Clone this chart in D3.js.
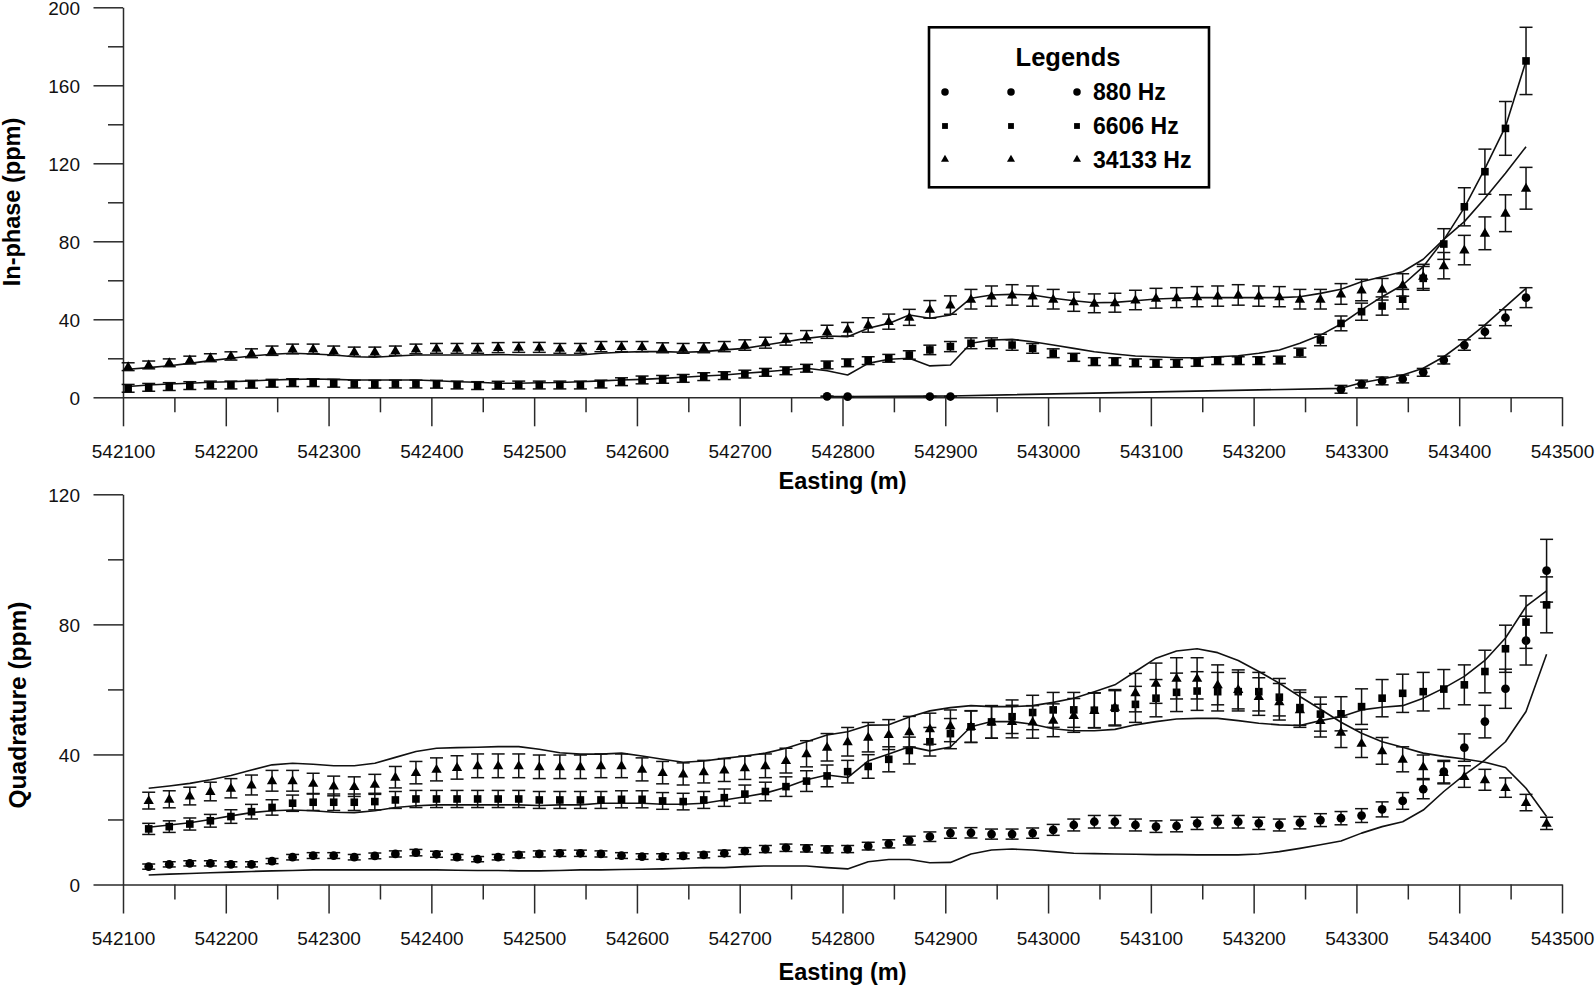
<!DOCTYPE html>
<html><head><meta charset="utf-8">
<script src="https://cdn.jsdelivr.net/npm/d3@7"></script>
<style>
html,body{margin:0;padding:0;background:#fff;}
svg{display:block;}
</style></head><body>
<script>
// ---------------- DATA ----------------
const xMajorTicks = [542100,542200,542300,542400,542500,542600,542700,542800,542900,543000,543100,543200,543300,543400,543500];
const xMinorTicks = [542150,542250,542350,542450,542550,542650,542750,542850,542950,543050,543150,543250,543350,543450];
const topYMajor = [0,40,80,120,160,200];
const topYMinor = [20,60,100,140,180];
const botYMajor = [0,40,80,120];
const botYMinor = [20,60,100];

const frequencies = ["880 Hz","6606 Hz","34133 Hz"];
// error bars: ±10 % of each reading, never smaller than the panel's minimum bar (ppm)
const errorFraction = 0.10;
const inphaseErrorFloor = 2.0;
const quadErrorFloor = 0.8;

// In-phase panel stations
const topEasting = [
542105,542125,542145,542165,542185,542205,542225,542245,542265,542285,
542305,542325,542345,542365,542385,542405,542425,542445,542465,542485,
542505,542525,542545,542565,542585,542605,542625,542645,542665,542685,
542705,542725,542745,542765,542785,542805,542825,542845,542865,542885,
542905,542925,542945,542965,542985,543005,543025,543045,543065,543085,
543105,543125,543145,543165,543185,543205,543225,543245,543265,543285,
543305,543325,543345,543365,543385,543405,543425,543445,543465];

const inphase880 = [
null,null,null,null,null,null,null,null,null,null,
null,null,null,null,null,null,null,null,null,null,
null,null,null,null,null,null,null,null,null,null,
null,null,null,null,0.5,0.3,null,null,null,0.4,
0.4,null,null,null,null,null,null,null,null,null,
null,null,null,null,null,null,null,null,null,4.1,
6.8,8.4,9.4,12.8,19.1,26.8,33.6,40.8,51.1];
const inphase880Model = [
null,null,null,null,null,null,null,null,null,null,
null,null,null,null,null,null,null,null,null,null,
null,null,null,null,null,null,null,null,null,null,
null,null,null,null,0.4,0.4,null,null,null,0.6,
0.7,null,null,null,null,null,null,null,null,null,
null,null,null,null,null,null,null,null,null,4.6,
7.5,9.4,11.4,14.9,20.8,28.5,37.1,46.5,55.9];

const inphase6606 = [
4.6,5.1,5.5,6.0,6.3,6.3,6.7,7.2,7.5,7.5,
7.2,6.8,6.7,6.8,6.8,6.7,6.3,6.0,6.2,6.3,
6.3,6.3,6.3,6.8,8.0,8.9,9.2,9.7,10.6,11.1,
11.9,12.8,13.6,14.9,16.6,17.7,18.8,20.0,21.7,24.3,
26.0,27.7,27.7,26.8,25.1,22.6,20.5,18.3,18.3,17.7,
17.4,17.4,17.9,18.8,18.8,18.8,19.1,22.9,29.4,37.9,
43.9,46.8,50.3,61.0,78.6,97.7,115.7,137.9,172.5];
const inphase6606Model = [
5.5,6.3,6.8,7.2,7.7,8.0,8.4,8.9,9.2,9.4,
9.2,8.9,8.9,8.9,8.9,8.5,8.0,7.7,7.2,7.2,
7.5,7.6,8.0,8.4,8.9,9.2,9.7,10.3,10.9,11.4,
12.3,13.1,14.0,14.9,13.6,11.4,17.4,19.5,20.0,16.1,
16.6,27.7,29.4,29.7,28.5,26.8,25.1,23.4,22.2,21.2,
20.8,20.3,20.3,20.8,21.3,22.6,24.3,27.7,31.9,37.6,
44.8,51.6,57.6,67.0,80.7,97.3,117.3,138.8,172.5];

const inphase34133 = [
15.7,16.6,17.7,19.1,20.3,21.2,22.6,23.9,24.8,24.8,
23.9,23.4,23.4,23.9,24.8,25.1,25.1,25.1,25.5,25.6,
25.6,25.1,25.1,26.0,26.0,26.0,25.4,25.1,25.4,26.0,
26.8,28.0,29.7,31.1,33.6,34.9,37.1,38.8,41.0,45.1,
47.3,50.3,51.9,52.5,51.9,50.3,49.0,48.2,48.5,49.9,
50.8,51.1,51.6,51.9,52.5,51.9,51.6,50.3,50.3,53.0,
55.0,55.4,57.6,62.0,67.5,75.5,84.1,94.4,107.2];
const inphase34133Model = [
14.4,15.2,16.2,17.4,18.8,20.0,21.2,22.1,22.6,22.2,
21.7,20.8,20.5,21.2,21.7,21.7,21.7,21.7,21.9,21.7,
21.7,21.7,21.7,22.6,23.1,23.4,23.4,23.1,23.4,24.3,
25.1,26.8,28.5,30.2,31.4,31.1,35.4,37.9,42.2,40.5,
42.2,50.8,52.5,52.8,52.5,50.8,49.5,48.5,48.7,49.5,
50.4,50.8,51.1,51.1,51.1,51.1,51.1,51.6,53.3,55.4,
59.3,61.8,64.4,70.8,81.0,90.1,102.1,114.9,128.5];

// Quadrature panel stations
const botEasting = [
542125,542145,542165,542185,542205,542225,542245,542265,542285,542305,
542325,542345,542365,542385,542405,542425,542445,542465,542485,542505,
542525,542545,542565,542585,542605,542625,542645,542665,542685,542705,
542725,542745,542765,542785,542805,542825,542845,542865,542885,542905,
542925,542945,542965,542985,543005,543025,543045,543065,543085,543105,
543125,543145,543165,543185,543205,543225,543245,543265,543285,543305,
543325,543345,543365,543385,543405,543425,543445,543465,543485];

const quad880 = [
5.5,6.2,6.5,6.5,6.2,6.2,7.2,8.4,8.9,8.9,
8.4,8.8,9.4,9.8,9.3,8.4,7.8,8.4,9.1,9.4,
9.6,9.6,9.4,8.9,8.6,8.6,8.8,9.1,9.6,10.3,
10.9,11.3,11.1,10.8,10.9,11.8,12.5,13.5,14.7,15.8,
15.9,15.5,15.5,15.8,16.8,18.3,19.3,19.3,18.3,17.8,
18.0,18.8,19.3,19.3,18.8,18.3,19.0,19.8,20.4,21.2,
23.1,25.7,29.3,34.7,42.1,50.1,60.2,75.0,96.5];
const quad880Model = [
2.9,3.2,3.4,3.6,3.8,4.0,4.2,4.3,4.5,4.5,
4.5,4.5,4.5,4.5,4.5,4.4,4.3,4.3,4.2,4.2,
4.3,4.5,4.5,4.6,4.7,4.8,5.0,5.2,5.2,5.5,
5.7,5.7,5.7,5.2,4.8,7.0,7.7,7.7,6.7,6.8,
9.4,10.6,10.9,10.6,10.1,9.6,9.5,9.4,9.3,9.2,
9.2,9.1,9.1,9.1,9.4,10.1,11.1,12.2,13.4,15.8,
17.8,19.3,22.9,28.6,33.7,38.3,43.9,53.2,70.8];

const quad6606 = [
17.1,17.8,18.6,19.6,20.9,22.4,23.7,25.0,25.3,25.3,
25.3,25.5,26.0,26.3,26.3,26.3,26.3,26.3,26.3,26.0,
26.0,26.0,26.0,26.2,26.2,25.7,25.5,26.0,26.7,27.8,
28.6,30.1,31.8,33.4,34.7,36.3,38.5,41.2,43.9,46.4,
48.5,50.0,51.6,52.9,53.7,53.7,53.6,54.2,55.4,57.3,
59.1,59.5,59.3,59.3,59.3,57.6,54.4,52.4,52.5,54.7,
57.3,58.8,59.3,60.1,61.4,65.5,72.5,80.7,86.0];
const quad6606Model = [
17.6,18.3,19.0,20.0,21.1,22.1,22.7,22.9,22.7,22.2,
22.1,22.7,23.7,24.2,24.5,24.5,24.5,24.5,24.5,24.3,
24.5,24.5,25.0,25.0,25.0,24.7,24.7,25.0,26.0,27.0,
28.1,29.9,32.2,33.7,32.9,38.0,40.1,42.4,41.1,42.3,
48.5,50.1,50.1,49.3,47.9,47.3,47.3,47.7,49.1,50.1,
50.9,51.1,51.1,50.4,49.6,49.1,48.9,50.4,51.6,53.7,
54.5,55.0,57.3,60.4,64.0,68.9,75.8,85.5,90.3];

const quad34133 = [
25.8,26.2,27.2,28.6,29.6,30.6,31.9,31.9,31.1,30.3,
30.1,30.8,33.0,34.4,35.4,36.0,36.5,36.5,36.5,36.2,
36.2,36.2,36.5,36.5,35.4,34.4,34.0,34.7,35.2,35.9,
36.5,38.1,40.2,42.2,43.9,45.3,46.1,47.0,47.9,48.8,
48.6,50.0,50.1,50.0,50.5,52.0,53.5,54.5,59.0,61.9,
63.4,63.4,61.4,60.0,57.8,56.2,53.7,50.4,46.8,43.4,
41.1,38.5,36.2,34.4,33.2,32.2,29.8,25.2,18.8];
const quad34133Model = [
29.6,30.3,31.1,32.2,33.5,35.2,36.8,37.3,37.0,36.5,
36.5,37.3,39.1,40.9,41.9,42.1,42.2,42.4,42.4,41.6,
40.5,40.1,40.1,40.4,39.5,38.5,37.6,38.0,38.8,39.5,
40.4,41.9,43.9,46.0,47.0,49.0,49.1,51.5,53.4,54.4,
55.0,54.7,54.7,55.0,56.0,57.3,59.3,61.4,65.5,69.6,
71.8,72.5,71.3,68.9,65.5,61.9,57.8,53.9,49.9,46.5,
43.9,42.2,40.4,39.4,38.6,37.6,36.0,29.6,20.9];

// ---------------- DRAWING ----------------
const W = 1595, H = 985;
const FONT = "'Liberation Sans', Arial, Helvetica, sans-serif";
const INK = "#111";
const svg = d3.select("body").append("svg").attr("width", W).attr("height", H)
  .style("font-family", FONT);

const x = d3.scaleLinear().domain([542100, 543500]).range([123, 1562]);

const symbols = [d3.symbolCircle, d3.symbolSquare, d3.symbolTriangle];
const symSize = [60, 58, 46];

function drawPanel(cfg) {
  const g = svg.append("g");
  const y = d3.scaleLinear().domain([0, cfg.yMax]).range([cfg.y0, cfg.yTop]);

  // x axis (major with labels, minor without)
  g.append("g").attr("transform", `translate(0,${cfg.y0})`)
    .call(d3.axisBottom(x).tickValues(xMajorTicks).tickSize(29).tickSizeOuter(0)
      .tickPadding(18).tickFormat(d3.format("d")));
  const xm = g.append("g").attr("transform", `translate(0,${cfg.y0})`)
    .call(d3.axisBottom(x).tickValues(xMinorTicks).tickSize(15).tickSizeOuter(0).tickFormat(""));
  xm.select(".domain").remove();

  // y axis
  const ya = g.append("g").attr("transform", `translate(${x(542100)},0)`)
    .call(d3.axisLeft(y).tickValues(cfg.yMajor).tickSize(29.5).tickSizeOuter(0).tickPadding(13.5));
  ya.selectAll(".tick text").attr("dy", "0.39em");
  const ym = g.append("g").attr("transform", `translate(${x(542100)},0)`)
    .call(d3.axisLeft(y).tickValues(cfg.yMinor).tickSize(15).tickSizeOuter(0).tickFormat(""));
  ym.select(".domain").remove();

  g.selectAll(".domain, .tick line").attr("stroke", "#2a2a2a").attr("stroke-width", 1.5);
  g.selectAll(".tick text").attr("font-size", 19).attr("fill", "#111").attr("font-family", FONT);

  // axis titles
  g.append("text").attr("x", (x.range()[0] + x.range()[1]) / 2).attr("y", cfg.xTitleY)
    .attr("text-anchor", "middle").attr("font-weight", "bold").attr("font-size", 23.5)
    .attr("fill", "#000").text("Easting (m)");
  g.append("text").attr("transform", `translate(${cfg.yTitleX},${cfg.yTitleC}) rotate(-90)`)
    .attr("text-anchor", "middle").attr("font-weight", "bold").attr("font-size", cfg.yTitleSize)
    .attr("fill", "#000").text(cfg.yTitle);

  const line = d3.line().x(d => x(d[0])).y(d => y(d[1]));

  cfg.series.forEach(s => {
    const modelPts = cfg.easting.map((e, i) => [e, s.model[i]]).filter(d => d[1] != null);
    g.append("path").attr("d", line(modelPts)).attr("fill", "none")
      .attr("stroke", INK).attr("stroke-width", 1.6).attr("stroke-linejoin", "round");
  });

  cfg.series.forEach((s, k) => {
    const pts = cfg.easting.map((e, i) => [e, s.obs[i]]).filter(d => d[1] != null);
    const eb = g.append("g").attr("stroke", INK).attr("stroke-width", 1.5).attr("fill", "none");
    pts.forEach(d => {
      const v = d[1];
      const err = v < 1 ? v * errorFraction : Math.max(v * errorFraction, cfg.errFloor);
      const cx = x(d[0]);
      const yt = y(v + err), yb = y(v - err);
      eb.append("line").attr("x1", cx).attr("x2", cx).attr("y1", yt).attr("y2", yb);
      eb.append("line").attr("x1", cx - 6.5).attr("x2", cx + 6.5).attr("y1", yt).attr("y2", yt);
      eb.append("line").attr("x1", cx - 6.5).attr("x2", cx + 6.5).attr("y1", yb).attr("y2", yb);
    });
    g.append("g").selectAll("path").data(pts).join("path")
      .attr("d", d3.symbol().type(symbols[k]).size(symSize[k]))
      .attr("transform", d => `translate(${x(d[0])},${y(d[1]) + (k === 2 ? 0.5 : 0)})`)
      .attr("fill", "#000");
  });
}

drawPanel({
  y0: 397.3, yTop: 7.3, yMax: 200, yMajor: topYMajor, yMinor: topYMinor,
  errFloor: inphaseErrorFloor,
  xTitleY: 488.5, yTitle: "In-phase (ppm)", yTitleX: 20, yTitleC: 202, yTitleSize: 23.5,
  easting: topEasting,
  series: [
    { obs: inphase880, model: inphase880Model },
    { obs: inphase6606, model: inphase6606Model },
    { obs: inphase34133, model: inphase34133Model }
  ]
});

drawPanel({
  y0: 884.5, yTop: 494.3, yMax: 120, yMajor: botYMajor, yMinor: botYMinor,
  errFloor: quadErrorFloor,
  xTitleY: 980, yTitle: "Quadrature (ppm)", yTitleX: 26, yTitleC: 705, yTitleSize: 24.5,
  easting: botEasting,
  series: [
    { obs: quad880, model: quad880Model },
    { obs: quad6606, model: quad6606Model },
    { obs: quad34133, model: quad34133Model }
  ]
});

// ---------------- LEGEND ----------------
const lg = svg.append("g");
lg.append("rect").attr("x", 929).attr("y", 27.3).attr("width", 280).attr("height", 160)
  .attr("fill", "#fff").attr("stroke", "#000").attr("stroke-width", 2.6);
lg.append("text").attr("x", 1068).attr("y", 66.3).attr("text-anchor", "middle")
  .attr("font-weight", "bold").attr("font-size", 25.5).attr("fill", "#000").text("Legends");
const legRowY = [92, 126, 159.5];
const legColX = [945, 1011, 1077];
const legSize = [44, 34, 28];
frequencies.forEach((f, k) => {
  legColX.forEach(cx => {
    lg.append("path").attr("d", d3.symbol().type(symbols[k]).size(legSize[k]))
      .attr("transform", `translate(${cx},${legRowY[k]})`).attr("fill", "#000");
  });
  lg.append("text").attr("x", 1093).attr("y", legRowY[k] + 8.3)
    .attr("font-weight", "bold").attr("font-size", 23).attr("fill", "#000").text(f);
});
</script>
</body></html>
